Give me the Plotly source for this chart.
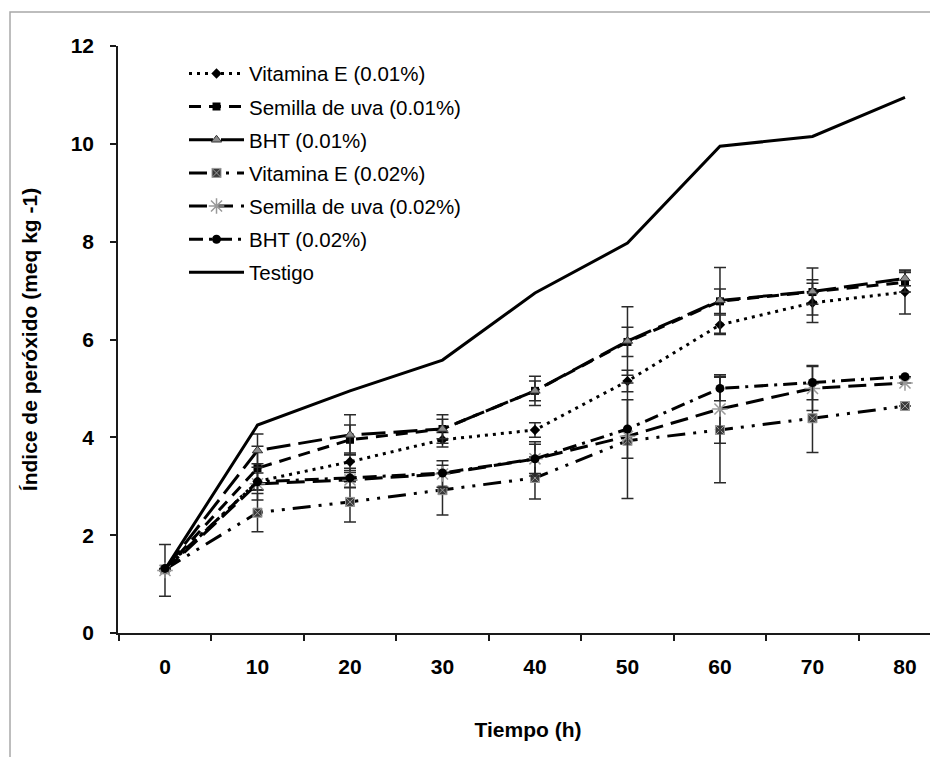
import plotly.graph_objects as go

# ---- data ----
tiempo = [0, 10, 20, 30, 40, 50, 60, 70, 80]
tick_labels = ["0", "10", "20", "30", "40", "50", "60", "70", "80"]

vit_e_001 = [1.30, 3.10, 3.50, 3.95, 4.15, 5.15, 6.30, 6.75, 6.97]
vit_e_001_err = [None, 0.17, 0.18, 0.15, 0.15, 0.22, 0.20, 0.40, 0.45]

semilla_001 = [1.30, 3.37, 3.95, 4.17, 4.95, 5.95, 6.78, 6.97, 7.17]
semilla_001_err = [None, 0.45, 0.30, 0.20, 0.20, 0.30, 0.25, 0.25, 0.20]

bht_001 = [1.30, 3.73, 4.05, 4.17, 4.95, 5.97, 6.80, 6.98, 7.25]
bht_001_err = [None, 0.34, 0.41, 0.29, 0.30, 0.70, 0.67, 0.48, 0.15]

vit_e_002 = [1.30, 2.46, 2.68, 2.92, 3.17, 3.93, 4.15, 4.39, 4.64]
vit_e_002_err = [None, 0.39, 0.41, 0.51, 0.43, 1.18, 1.08, 0.70, None]

semilla_002 = [1.28, 3.05, 3.13, 3.25, 3.56, 4.02, 4.58, 5.00, 5.11]
semilla_002_err = [0.53, None, 0.15, 0.27, 0.30, None, 0.70, 0.45, None]

bht_002 = [1.32, 3.09, 3.17, 3.27, 3.56, 4.17, 5.00, 5.12, 5.24]
bht_002_err = [None, 0.37, 0.20, None, 0.35, 0.60, 0.25, 0.35, None]

testigo = [1.30, 4.25, 4.95, 5.58, 6.95, 7.97, 9.95, 10.15, 10.95]

FONT = "Liberation Sans, Arial, sans-serif"

series = [
    ("Vitamina E (0.01%)", vit_e_001, vit_e_001_err, "3px,5px",
     dict(symbol="diamond", size=8, color="black")),
    ("Semilla de uva (0.01%)", semilla_001, semilla_001_err, "12px,8px",
     dict(symbol="square", size=8, color="black")),
    ("BHT (0.01%)", bht_001, bht_001_err, "24px,8px",
     dict(symbol="triangle-up", size=9, color="#8c8c8c", line=dict(color="#333333", width=1))),
    ("Vitamina E (0.02%)", vit_e_002, vit_e_002_err, "18px,8px,3px,8px,3px,8px",
     dict(symbol="square-x", size=9, color="#3a3a3a", line=dict(color="#9a9a9a", width=1))),
    ("Semilla de uva (0.02%)", semilla_002, semilla_002_err, "18px,8px",
     dict(symbol="asterisk-open", size=13, color="#9a9a9a", line=dict(color="#9a9a9a", width=1.5))),
    ("BHT (0.02%)", bht_002, bht_002_err, "14px,6px,3px,6px",
     dict(symbol="circle", size=9, color="black")),
]

fig = go.Figure()
for i, (name, vals, errs, dash, marker) in enumerate(series):
    fig.add_trace(go.Scatter(
        x=tiempo, y=vals, name=name, mode="lines+markers",
        line=dict(color="black", width=3, dash=dash),
        marker=marker,
        error_y=dict(type="data", array=errs, visible=True,
                     color="#2a2a2a", thickness=1.5, width=6),
        legendgroup=f"g{i}",
    ))

fig.add_trace(go.Scatter(
    x=tiempo, y=testigo, name="Testigo", mode="lines",
    line=dict(color="black", width=3), legendgroup="g6",
))

# frame around the picture (decorative)
fig.add_shape(type="rect", xref="paper", yref="paper",
              x0=-0.1317, x1=1.02, y0=-0.24, y1=1.0579,
              line=dict(color="#a8a8a8", width=1.5), fillcolor="rgba(0,0,0,0)", layer="below")

fig.update_layout(
    width=930, height=749,
    margin=dict(l=110, r=0, t=38, b=124, autoexpand=False),
    paper_bgcolor="white", plot_bgcolor="white",
    font=dict(family=FONT, color="black"),
    showlegend=True,
    legend=dict(
        x=0.0805, y=0.987, xanchor="left", yanchor="top",
        bgcolor="rgba(0,0,0,0)", borderwidth=0,
        font=dict(family=FONT, size=20.5, color="black"),
        itemwidth=55, tracegroupgap=3.5, traceorder="grouped",
    ),
    xaxis=dict(
        range=[-5.08, 83.57],
        tickmode="array", tickvals=tiempo, ticktext=tick_labels,
        ticks="", showgrid=False, zeroline=False,
        showline=True, linecolor="#1a1a1a", linewidth=1.5,
        tickfont=dict(family=FONT, size=21, color="black", weight="bold"),
        ticklabelstandoff=14,
        minor=dict(tick0=5, dtick=10, ticks="outside", ticklen=6,
                   tickwidth=1.5, tickcolor="#1a1a1a", showgrid=False),
        title=dict(text="<b>Tiempo (h)</b>", font=dict(family=FONT, size=21, color="black"),
                   standoff=45),
    ),
    yaxis=dict(
        range=[0, 12], tickmode="linear", tick0=0, dtick=2,
        ticks="outside", ticklen=6, tickwidth=1.5, tickcolor="#1a1a1a",
        showgrid=False, zeroline=False,
        showline=True, linecolor="#1a1a1a", linewidth=1.5,
        tickfont=dict(family=FONT, size=21, color="black", weight="bold"),
        ticklabelstandoff=12,
        title=dict(text="<b>Índice de peróxido (meq kg -1)</b>",
                   font=dict(family=FONT, size=21, color="black"), standoff=27),
    ),
)

fig.write_html("out.html")
